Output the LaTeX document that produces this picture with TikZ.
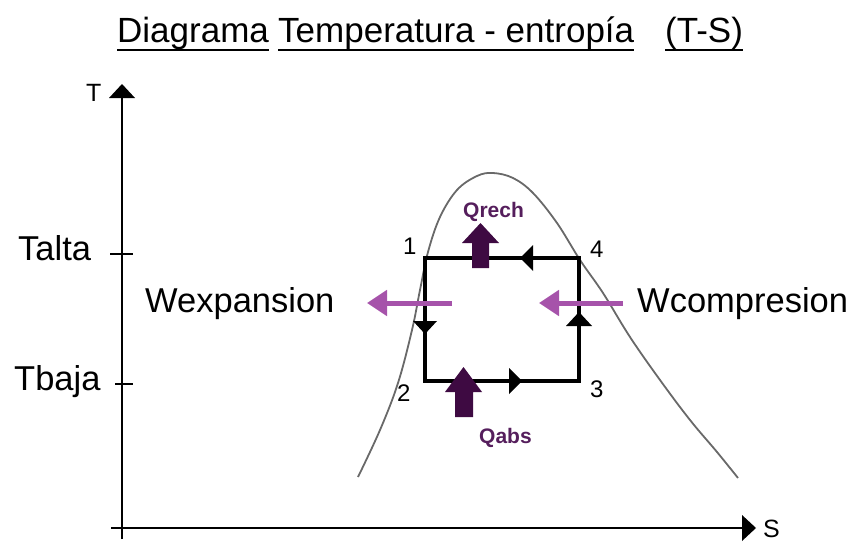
\documentclass[tikz,border=0pt]{standalone}
\usepackage{fontspec}
\setmainfont{Liberation Sans}
\usetikzlibrary{arrows.meta}
\definecolor{darkq}{RGB}{62,10,66}
\definecolor{qtext}{RGB}{85,30,92}
\definecolor{wpurple}{RGB}{166,83,170}
\definecolor{curvegray}{RGB}{105,105,105}
\tikzset{
  lbl/.style={inner sep=0pt, anchor=base west, font=\fontsize{34.5}{40}\selectfont},
  ttl/.style={inner sep=0pt, anchor=base west, font=\fontsize{35}{40}\selectfont},
  num/.style={inner sep=0pt, anchor=base west, font=\fontsize{24}{28}\selectfont},
  axlbl/.style={inner sep=0pt, anchor=base west, font=\fontsize{25}{29}\selectfont},
  qlbl/.style={inner sep=0pt, anchor=base west, text=qtext, font=\bfseries\fontsize{21}{25}\selectfont},
  axis/.style={line width=1.6pt, black},
  cyc/.style={line width=4pt, black, line join=miter},
  tri/.style={fill=black},
  bigarrow/.style={fill=darkq},
  warrow/.style={draw=wpurple, line width=5pt, -{Triangle[length=20pt,width=25pt]}},
  uline/.style={line width=2pt, black}
}
\begin{document}
\begin{tikzpicture}[x=1pt,y=-1pt]
\useasboundingbox (0,0) rectangle (860,546);
% title
\node[ttl] (t1) at (117,42) {Diagrama};
\node[ttl] (t2) at (278,42) {Temperatura - entropía};
\node[ttl] (t3) at (665,42) {(T-S)};
\foreach \n in {t1,t2,t3}{
  \draw[uline] ([yshift=-8pt]\n.base west) -- ([yshift=-8pt]\n.base east);
}
% axes
\coordinate (yb) at (122,539);
\coordinate (yt) at (122,97);
\coordinate (xl) at (111,528);
\coordinate (xr) at (743,528);
\draw[axis] (yb) -- (yt);
\draw[axis] (xl) -- (xr);
\fill (122,84) -- (135,98) -- (109,98) -- cycle;
\fill (756,528) -- (742,515) -- (742,541) -- cycle;
\node[axlbl] (T) at (86,101) {T};
\node[axlbl] (S) at (763,537) {S};
% ticks
\coordinate (ta1) at (110,254); \coordinate (ta2) at (133,254);
\coordinate (tb1) at (115,384); \coordinate (tb2) at (133,384);
\draw[axis] (ta1) -- (ta2);
\draw[axis] (tb1) -- (tb2);
\node[lbl] (talta) at (18,260) {Talta};
\node[lbl] (tbaja) at (14,390) {Tbaja};
% saturation curve
\draw[curvegray, line width=1.8pt] plot[smooth, tension=0.6] coordinates {
 (358,477) (380,430) (398,383) (412,330) (420,290) (428,252) (440,217)
 (457,190) (477,176) (493,173) (513,178) (533,193) (557,223) (580,260)
 (603,293) (630,337) (660,380) (690,420) (717,452) (738,478)};
% cycle
\coordinate (p1) at (425,258);
\coordinate (p4) at (579,258);
\coordinate (p3) at (579,381);
\coordinate (p2) at (425,381);
\draw[cyc] (p1) -- (p4) -- (p3) -- (p2) -- cycle;
% cycle arrowheads
\fill[tri] (520,258) -- (533,245) -- (533,271) -- cycle;
\fill[tri] (579,312) -- (566,326) -- (592,326) -- cycle;
\fill[tri] (522,381) -- (509,368) -- (509,394) -- cycle;
\fill[tri] (425,334) -- (413,321) -- (437,321) -- cycle;
% numbers
\node[num] (n1) at (403,254) {1};
\node[num] (n4) at (590,257) {4};
\node[num] (n2) at (397,401) {2};
\node[num] (n3) at (590,397) {3};
% heat arrows
\fill[bigarrow] (472,268) -- (489,268) -- (489,243) -- (499,243) -- (480.5,223) -- (462,243) -- (472,243) -- cycle;
\fill[bigarrow] (455,417) -- (473,417) -- (473,392) -- (482,392) -- (463.5,367) -- (445,392) -- (455,392) -- cycle;
\node[qlbl] (qrech) at (463,217) {Qrech};
\node[qlbl] (qabs) at (479,443) {Qabs};
% work arrows
\coordinate (wl1) at (452,303); \coordinate (wl2) at (367,303);
\coordinate (wr1) at (623,303); \coordinate (wr2) at (539,303);
\draw[warrow] (wl1) -- (wl2);
\draw[warrow] (wr1) -- (wr2);
\node[lbl] (wexp) at (145,312) {Wexpansion};
\node[lbl] (wcomp) at (637,312) {Wcompresion};
\end{tikzpicture}
\end{document}
